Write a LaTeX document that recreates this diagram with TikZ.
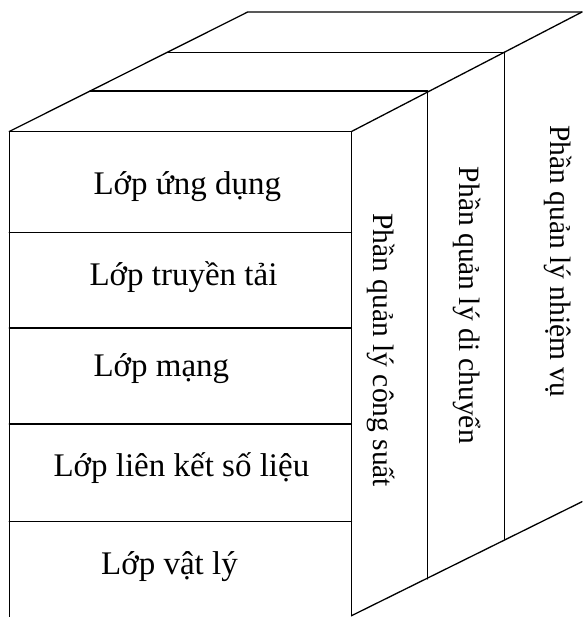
\documentclass[tikz,border=0pt]{standalone}
\usepackage{fontspec}
\setmainfont{Liberation Serif}
\begin{document}
\begin{tikzpicture}[x=1pt,y=-1pt,
  edge/.style={line width=1.3pt,line cap=round},
  layertext/.style={anchor=base west,inner sep=0pt,font=\fontsize{33}{36}\selectfont},
  sidetext/.style={anchor=base west,inner sep=0pt,rotate=-90,font=\fontsize{29.5}{32}\selectfont}]
\useasboundingbox (0,0) rectangle (582,617);
% corners
\coordinate (FTL) at (9.3,131.5);
\coordinate (FTR) at (351.5,131.5);
\coordinate (FBL) at (9.3,620);
\coordinate (FBR) at (351.5,615.7);
\coordinate (B1L) at (90.1,91);
\coordinate (B1R) at (427.7,91);
\coordinate (B2L) at (167,52.3);
\coordinate (B2R) at (504.3,52.3);
\coordinate (B3L) at (247.7,12);
\coordinate (B3R) at (582,12);
\coordinate (D1) at (427.7,579);
\coordinate (D2) at (504.3,539.3);
\coordinate (D3) at (582,501.7);
% front face
\draw[edge] (FBL) -- (FTL) -- (FTR) -- (FBR);
\foreach \y/\n in {232.3/a,328/b,424/c,521.7/d}{
  \coordinate (L\n) at (9.3,\y);
  \coordinate (R\n) at (351.5,\y);
  \draw[edge] (L\n) -- (R\n);
}
% top
\draw[edge] (FTL) -- (B3L) -- (B3R);
\draw[edge] (FTR) -- (B3R);
\draw[edge] (B1L) -- (B1R);
\draw[edge] (B2L) -- (B2R);
% side
\draw[edge] (B1R) -- (D1);
\draw[edge] (B2R) -- (D2);
\draw[edge] (FBR) -- (D3);
% texts
\node[layertext] (t1) at (93.3,194.3) {Lớp ứng dụng};
\node[layertext] (t2) at (89.3,285.7) {Lớp truyền tải};
\node[layertext] (t3) at (93.3,376.7) {Lớp mạng};
\node[layertext] (t4) at (53.3,476) {Lớp liên kết số liệu};
\node[layertext] (t5) at (101,574) {Lớp vật lý};
\node[sidetext] (s1) at (373,213.3) {Phần quản lý công suất};
\node[sidetext] (s2) at (459,166.7) {Phần quản lý di chuyển};
\node[sidetext] (s3) at (550,125) {Phần quản lý nhiệm vụ};
\end{tikzpicture}
\end{document}
